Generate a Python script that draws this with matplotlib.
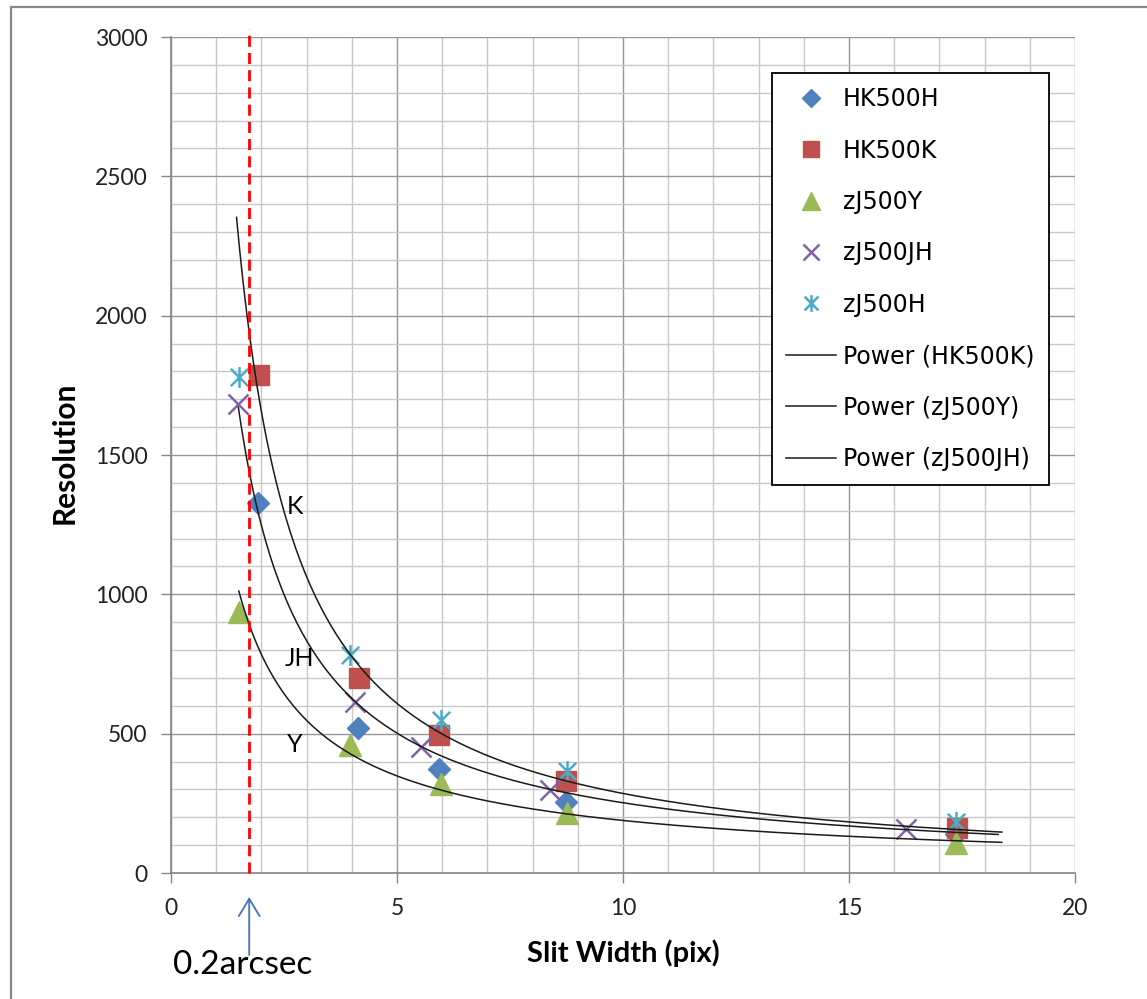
import numpy as np
import matplotlib
matplotlib.use('Agg')
import matplotlib.pyplot as plt
from matplotlib.path import Path
from matplotlib.patches import Rectangle

plt.rcParams['font.family'] = ['Lato', 'DejaVu Sans']

# Measured resolution vs slit width for each grating/filter setting
hk500h_x = [1.93, 4.14, 5.94, 8.74, 17.37]
hk500h_y = [1327, 519, 372, 256, 140]

hk500k_x = [1.95, 4.16, 5.94, 8.74, 17.38]
hk500k_y = [1787, 701, 495, 330, 161]

zj500y_x = [1.50, 3.97, 5.97, 8.75, 17.37]
zj500y_y = [937, 458, 320, 215, 107]

zj500jh_x = [1.49, 4.06, 5.53, 8.38, 16.26]
zj500jh_y = [1682, 614, 453, 298, 157]

zj500h_x = [1.50, 3.96, 5.97, 8.75, 17.37]
zj500h_y = [1781, 782, 549, 366, 184]

# x span over which each power-law trendline is drawn
trend_range_k = (1.45, 18.38)
trend_range_y = (1.50, 18.38)
trend_range_jh = (1.49, 18.30)

slit_02arcsec = 1.73

# Excel style asterisk marker (X with a vertical bar)
star_marker = Path([(-1, -1), (1, 1), (-1, 1), (1, -1), (0, -1.2), (0, 1.2)],
                   [Path.MOVETO, Path.LINETO, Path.MOVETO, Path.LINETO, Path.MOVETO, Path.LINETO])

W, H = 1147, 999
fig = plt.figure(figsize=(W / 100, H / 100), dpi=100)
ax = fig.add_axes([171 / W, (H - 873) / H, (1075 - 171) / W, (873 - 37) / H])

ax.set_xlim(0, 20)
ax.set_ylim(0, 3000)
ax.set_xticks(np.arange(0, 21, 5))
ax.set_yticks(np.arange(0, 3001, 500))
ax.set_xticks(np.arange(0, 21, 1), minor=True)
ax.set_yticks(np.arange(0, 3001, 100), minor=True)
ax.grid(True, which='minor', color='#c8c8c8', lw=1.0, zorder=0)
ax.grid(True, which='major', color='#969696', lw=1.0, zorder=0)
ax.set_axisbelow(True)
ax.tick_params(which='major', direction='out', length=7, width=1, color='#868686',
               labelsize=16.5, labelcolor='#222222')
ax.tick_params(axis='y', pad=10)
ax.tick_params(axis='x', pad=11)
ax.tick_params(which='minor', length=0)
for s in ['top', 'right']:
    ax.spines[s].set_visible(False)
for s in ['left', 'bottom']:
    ax.spines[s].set_color('#868686')
    ax.spines[s].set_linewidth(1.2)

ax.plot(hk500h_x, hk500h_y, ls='none', marker='D', ms=11.2, color='#4F81BD', label='HK500H', zorder=3)
ax.plot(hk500k_x, hk500k_y, ls='none', marker='s', ms=15, color='#C0504D', label='HK500K', zorder=3)
ax.plot(zj500y_x, zj500y_y, ls='none', marker='^', ms=15.5, color='#9BBB59', label='zJ500Y', zorder=3)
ax.plot(zj500jh_x, zj500jh_y, ls='none', marker='x', ms=14, mew=1.8, color='#8064A2', label='zJ500JH', zorder=3)
ax.plot(zj500h_x, zj500h_y, ls='none', marker=star_marker, ms=15, mew=1.8, mfc='none',
        color='#4BACC6', label='zJ500H', zorder=3)


def power_fit(x, y, xr):
    b, lna = np.polyfit(np.log(x), np.log(y), 1)
    xs = np.linspace(xr[0], xr[1], 300)
    return xs, np.exp(lna) * xs ** b


for xs_, ys_, xr, name in [(hk500k_x, hk500k_y, trend_range_k, 'Power (HK500K)'),
                           (zj500y_x, zj500y_y, trend_range_y, 'Power (zJ500Y)'),
                           (zj500jh_x, zj500jh_y, trend_range_jh, 'Power (zJ500JH)')]:
    fx, fy = power_fit(xs_, ys_, xr)
    ax.plot(fx, fy, color='#1a1a1a', lw=1.1, label=name, zorder=4)

ax.plot([slit_02arcsec, slit_02arcsec], [0, 3030], color='red', lw=2, ls=(0, (4, 2.2)),
        clip_on=False, zorder=5)

ax.text(2.74, 1315, 'K', fontsize=18, ha='center', va='center')
ax.text(2.85, 771, 'JH', fontsize=18, ha='center', va='center')
ax.text(2.74, 462, 'Y', fontsize=18, ha='center', va='center')

leg = ax.legend(loc='upper left', bbox_to_anchor=(772 / W, (H - 73) / H), bbox_transform=fig.transFigure,
                borderaxespad=0, fancybox=False, framealpha=1, edgecolor='black',
                prop={'family': 'DejaVu Sans', 'size': 17}, markerscale=0.8,
                handlelength=2.1, handletextpad=0.3, labelspacing=1.16, borderpad=0.6)
leg.get_frame().set_linewidth(1.3)

fig.text(65 / W, (H - 453) / H, 'Resolution', rotation=90, fontsize=21.5, fontweight='bold',
         ha='center', va='center')
fig.text(623 / W, (H - 953) / H, 'Slit Width (pix)', fontsize=21, fontweight='bold',
         ha='center', va='center')

ax.annotate('', xy=(slit_02arcsec, H - 897), xytext=(slit_02arcsec, H - 955),
            xycoords=('data', 'figure pixels'), textcoords=('data', 'figure pixels'),
            arrowprops=dict(arrowstyle='->,head_length=0.5,head_width=0.3', mutation_scale=25,
                            lw=1.3, color='#4472C4', shrinkA=0, shrinkB=0))
fig.text(243 / W, (H - 965) / H, '0.2arcsec', fontsize=24, ha='center', va='center')

fig.patches.append(Rectangle((11 / W, -0.05), 1.2, 1.05 - 7 / H, transform=fig.transFigure,
                             fill=False, edgecolor='#888888', lw=1.6))

fig.savefig('out.png', dpi=100)
